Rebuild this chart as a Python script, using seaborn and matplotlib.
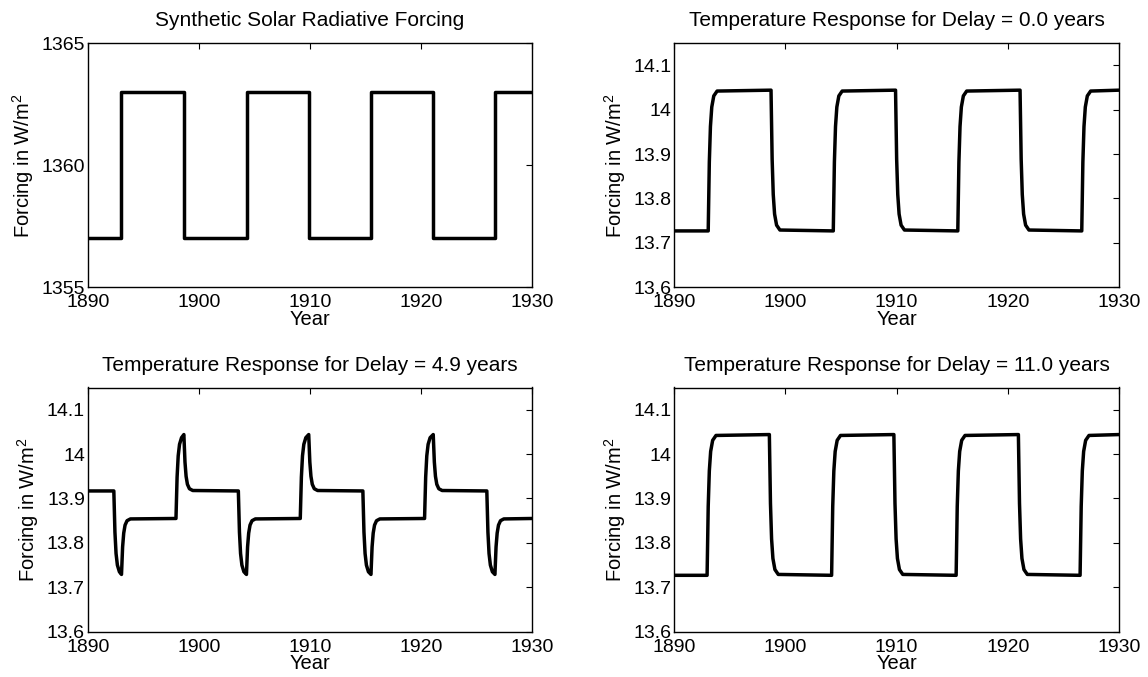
import matplotlib
matplotlib.use("Agg")
import matplotlib.pyplot as plt
import seaborn as sns
import pandas as pd
from matplotlib.ticker import FixedLocator, FuncFormatter

# -----------------------------
# Data
# -----------------------------
# synthetic forcing: step levels, value holds until the next year in the list
forcing_years = [1890, 1893.04, 1898.65, 1904.29, 1909.9, 1915.48, 1921.09, 1926.63, 1930]
forcing_vals = [1357, 1363, 1357, 1363, 1357, 1363, 1357, 1363, 1363]

# temperature response, delay = 0.0 years
delay0_years = [1890,
                1893.05, 1893.15, 1893.25, 1893.37, 1893.55, 1893.85,
                1898.70, 1898.80, 1898.90, 1899.02, 1899.20, 1899.50,
                1904.30, 1904.40, 1904.50, 1904.62, 1904.80, 1905.10,
                1909.90, 1910.00, 1910.10, 1910.22, 1910.40, 1910.70,
                1915.50, 1915.60, 1915.70, 1915.82, 1916.00, 1916.30,
                1921.10, 1921.20, 1921.30, 1921.42, 1921.60, 1921.90,
                1926.65, 1926.75, 1926.85, 1926.97, 1927.15, 1927.45,
                1930]
delay0_vals = [13.727,
               13.727, 13.882, 13.962, 14.006, 14.031, 14.042,
               14.044, 13.889, 13.809, 13.765, 13.740, 13.729,
               13.727, 13.882, 13.962, 14.006, 14.031, 14.042,
               14.044, 13.889, 13.809, 13.765, 13.740, 13.729,
               13.727, 13.882, 13.962, 14.006, 14.031, 14.042,
               14.044, 13.889, 13.809, 13.765, 13.740, 13.729,
               13.727, 13.882, 13.962, 14.006, 14.031, 14.042,
               14.044]

# temperature response, delay = 4.9 years
delay49_years = [1890,
                 1892.35, 1892.45, 1892.55, 1892.67, 1892.85,
                 1893.04, 1893.14, 1893.24, 1893.36, 1893.54, 1893.84,
                 1897.94, 1898.04, 1898.14, 1898.26, 1898.44,
                 1898.65, 1898.75, 1898.85, 1898.97, 1899.15, 1899.45,
                 1903.55, 1903.65, 1903.75, 1903.87, 1904.05,
                 1904.28, 1904.38, 1904.48, 1904.60, 1904.78, 1905.08,
                 1909.12, 1909.22, 1909.32, 1909.44, 1909.62,
                 1909.88, 1909.98, 1910.08, 1910.20, 1910.38, 1910.68,
                 1914.75, 1914.85, 1914.95, 1915.07, 1915.25,
                 1915.48, 1915.58, 1915.68, 1915.80, 1915.98, 1916.28,
                 1920.30, 1920.40, 1920.50, 1920.62, 1920.80,
                 1921.08, 1921.18, 1921.28, 1921.40, 1921.58, 1921.88,
                 1925.90, 1926.00, 1926.10, 1926.22, 1926.40,
                 1926.63, 1926.73, 1926.83, 1926.95, 1927.13, 1927.43,
                 1930]
delay49_vals = [13.917,
                13.917, 13.824, 13.776, 13.750, 13.735,
                13.729, 13.791, 13.822, 13.840, 13.850, 13.854,
                13.855, 13.948, 13.996, 14.022, 14.037,
                14.044, 13.982, 13.950, 13.932, 13.922, 13.918,
                13.917, 13.824, 13.776, 13.750, 13.735,
                13.729, 13.791, 13.822, 13.840, 13.850, 13.854,
                13.855, 13.948, 13.996, 14.022, 14.037,
                14.044, 13.982, 13.950, 13.932, 13.922, 13.918,
                13.917, 13.824, 13.776, 13.750, 13.735,
                13.729, 13.791, 13.822, 13.840, 13.850, 13.854,
                13.855, 13.948, 13.996, 14.022, 14.037,
                14.044, 13.982, 13.950, 13.932, 13.922, 13.918,
                13.917, 13.824, 13.776, 13.750, 13.735,
                13.729, 13.791, 13.822, 13.840, 13.850, 13.854,
                13.855]

# temperature response, delay = 11.0 years
delay11_years = [1890,
                 1892.95, 1893.05, 1893.15, 1893.27, 1893.45, 1893.75,
                 1898.55, 1898.65, 1898.75, 1898.87, 1899.05, 1899.35,
                 1904.15, 1904.25, 1904.35, 1904.47, 1904.65, 1904.95,
                 1909.75, 1909.85, 1909.95, 1910.07, 1910.25, 1910.55,
                 1915.35, 1915.45, 1915.55, 1915.67, 1915.85, 1916.15,
                 1920.95, 1921.05, 1921.15, 1921.27, 1921.45, 1921.75,
                 1926.50, 1926.60, 1926.70, 1926.82, 1927.00, 1927.30,
                 1930]
delay11_vals = [13.727,
                13.727, 13.882, 13.962, 14.006, 14.031, 14.042,
                14.044, 13.889, 13.809, 13.765, 13.740, 13.729,
                13.727, 13.882, 13.962, 14.006, 14.031, 14.042,
                14.044, 13.889, 13.809, 13.765, 13.740, 13.729,
                13.727, 13.882, 13.962, 14.006, 14.031, 14.042,
                14.044, 13.889, 13.809, 13.765, 13.740, 13.729,
                13.727, 13.882, 13.962, 14.006, 14.031, 14.042,
                14.044]

year_ticks = [1890, 1900, 1910, 1920, 1930]
forcing_ticks = [1355, 1360, 1365]
temp_ticks = [13.6, 13.7, 13.8, 13.9, 14.0, 14.1]

titles = ["Synthetic Solar Radiative Forcing",
          "Temperature Response for Delay = 0.0 years",
          "Temperature Response for Delay = 4.9 years",
          "Temperature Response for Delay = 11.0 years"]

# -----------------------------
# Style
# -----------------------------
sns.set_theme(style="white")
plt.rcParams['font.family'] = ['Liberation Sans', 'DejaVu Sans']
plt.rcParams['mathtext.default'] = 'regular'

fig = plt.figure(figsize=(11.48, 6.77), dpi=100)
W, H = 444.7 / 1148, 244.2 / 677
positions = [(87.7 / 1148, 1 - 287.3 / 677),
             (674.3 / 1148, 1 - 287.3 / 677),
             (87.7 / 1148, 1 - 631.7 / 677),
             (674.3 / 1148, 1 - 631.7 / 677)]

series = [(forcing_years, forcing_vals), (delay0_years, delay0_vals),
          (delay49_years, delay49_vals), (delay11_years, delay11_vals)]

fmt = FuncFormatter(lambda v, p: "%g" % round(v, 4))

for i, ((xs, ys), (left, bottom)) in enumerate(zip(series, positions)):
    ax = fig.add_axes([left, bottom, W, H])
    df = pd.DataFrame({"year": xs, "value": ys})
    if i == 0:
        sns.lineplot(data=df, x="year", y="value", ax=ax, color="black",
                     linewidth=2.5, drawstyle="steps-post", errorbar=None,
                     estimator=None)
        ax.set_ylim(1355, 1365)
        ax.yaxis.set_major_locator(FixedLocator(forcing_ticks))
    else:
        sns.lineplot(data=df, x="year", y="value", ax=ax, color="black",
                     linewidth=2.5, errorbar=None, estimator=None)
        ax.set_ylim(13.6, 14.15)
        ax.yaxis.set_major_locator(FixedLocator(temp_ticks))
    ax.set_xlim(1890, 1930)
    ax.xaxis.set_major_locator(FixedLocator(year_ticks))
    ax.yaxis.set_major_formatter(fmt)
    ax.xaxis.set_major_formatter(fmt)

    for s in ax.spines.values():
        s.set_visible(True)
        s.set_color("black")
        s.set_linewidth(1.0)
    ax.tick_params(axis="both", direction="in", length=4, width=0.8,
                   top=True, right=True, labelsize=14, colors="black")
    ax.tick_params(axis="x", pad=5)
    ax.tick_params(axis="y", pad=2)

    ax.set_title(titles[i], fontsize=15, pad=12, color="black")
    ax.set_xlabel("Year", fontsize=14.5, labelpad=-1, color="black")
    ax.set_ylabel("Forcing in W/m$^2$", fontsize=14.5, labelpad=4, color="black")

fig.savefig("out.png", dpi=100, facecolor="white")
